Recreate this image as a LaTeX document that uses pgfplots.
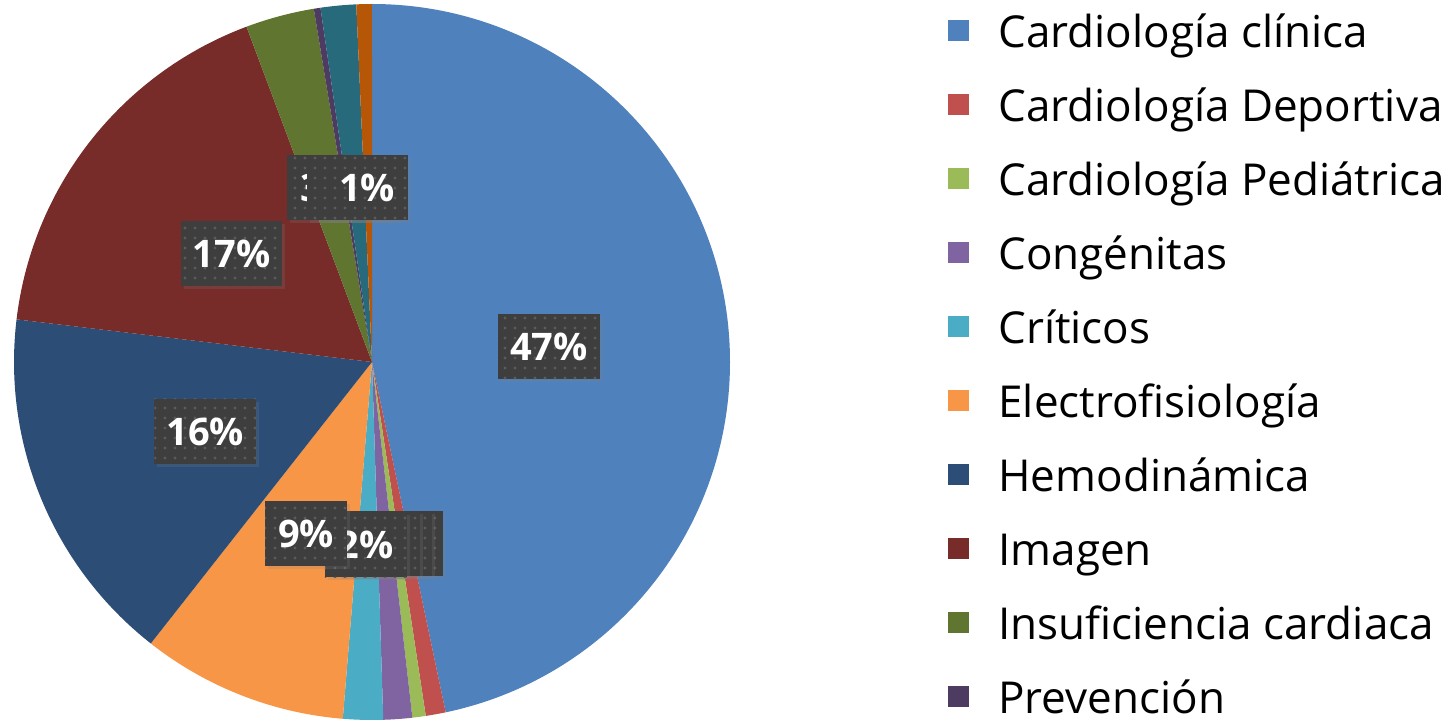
\documentclass[border=0pt]{standalone}
\usepackage{pgfplots}
\pgfplotsset{compat=1.18}
\usepackage{fontspec}
\setmainfont{Open Sans}
\usetikzlibrary{patterns.meta,shadows}

\pgfdeclarepattern{
  name=sparsedots,
  type=uncolored,
  bottom left={\pgfpoint{-.1pt}{-.1pt}},
  top right={\pgfpoint{5.1pt}{5.1pt}},
  tile size={\pgfpoint{5pt}{5pt}},
  code={\pgfpathcircle{\pgfpoint{2.5pt}{2.5pt}}{0.8pt}\pgfusepath{fill}}
}

\definecolor{c1}{HTML}{4F81BD}
\definecolor{c2}{HTML}{C0504D}
\definecolor{c3}{HTML}{9BBB59}
\definecolor{c4}{HTML}{8064A2}
\definecolor{c5}{HTML}{4BACC6}
\definecolor{c6}{HTML}{F79646}
\definecolor{c7}{HTML}{2C4D75}
\definecolor{c8}{HTML}{772C2A}
\definecolor{c9}{HTML}{5F7530}
\definecolor{c10}{HTML}{4D3B62}
\definecolor{c11}{HTML}{276A7C}
\definecolor{c12}{HTML}{B65708}
\definecolor{lblgray}{HTML}{3E3E3E}
\definecolor{dotgray}{HTML}{5C5C5C}

% slice: start %, end %, colour
\newcommand{\slice}[3]{\fill[#3] (axis cs:0,0) -- (axis cs:{cos(90-3.6*#1)},{sin(90-3.6*#1)}) arc[start angle={90-3.6*#1}, end angle={90-3.6*#2}, radius=179pt] -- cycle;}
\newcommand{\plabel}[3]{\node[lbl] at (axis cs:#1,#2) {#3};}

\tikzset{lbl/.style={fill=lblgray, text=white, font=\fontsize{19}{22}\bfseries\selectfont,
  inner xsep=6pt, inner ysep=9.25pt, text height=14pt, text depth=0pt, minimum width=41pt,
  postaction={pattern={sparsedots}, pattern color=dotgray},
  drop shadow={opacity=0.2, shadow xshift=1.5pt, shadow yshift=-1.5pt}}}

\begin{document}
\begin{tikzpicture}
\useasboundingbox (0,0) rectangle (726.5pt,361.5pt);
\begin{axis}[at={(186pt,180.5pt)}, anchor=origin, hide axis, scale only axis,
  x=179pt, y=179pt, xmin=-1, xmax=1, ymin=-1, ymax=1, clip=false]
% values (%): 46.7, 0.9, 0.6, 1.3, 1.8, 9.3, 16.3, 17.4, 3.1, 0.3, 1.6, 0.7
\slice{0}{46.7}{c1}
\slice{46.7}{47.6}{c2}
\slice{47.6}{48.2}{c3}
\slice{48.2}{49.5}{c4}
\slice{49.5}{51.3}{c5}
\slice{51.3}{60.6}{c6}
\slice{60.6}{76.9}{c7}
\slice{76.9}{94.3}{c8}
\slice{94.3}{97.4}{c9}
\slice{97.4}{97.7}{c10}
\slice{97.7}{99.3}{c11}
\slice{99.3}{100}{c12}
% data labels
\plabel{0.494}{0.043}{47\%}
\plabel{0.084}{-0.506}{1\%}
\plabel{0.053}{-0.506}{1\%}
\plabel{0.020}{-0.506}{1\%}
\plabel{-0.017}{-0.511}{2\%}
\plabel{-0.184}{-0.479}{9\%}
\plabel{-0.466}{-0.194}{16\%}
\plabel{-0.392}{0.302}{17\%}
\plabel{-0.123}{0.487}{3\%}
\plabel{-0.067}{0.487}{0\%}
\plabel{-0.039}{0.487}{2\%}
\plabel{-0.014}{0.487}{1\%}
\end{axis}
\foreach \c/\t [count=\i from 0] in {c1/Cardiología clínica, c2/Cardiología Deportiva, c3/Cardiología Pediátrica, c4/Congénitas, c5/Críticos, c6/Electrofisiología, c7/Hemodinámica, c8/Imagen, c9/Insuficiencia cardiaca, c10/Prevención}{
  \fill[\c] (474pt,{346pt-\i*37pt-5.25pt}) rectangle ++(10.5pt,10.5pt);
  \node[anchor=base west, inner sep=0pt, font=\fontsize{22}{26}\selectfont] at (499pt,{337.5pt-\i*37pt}) {\t};
}
\end{tikzpicture}
\end{document}
